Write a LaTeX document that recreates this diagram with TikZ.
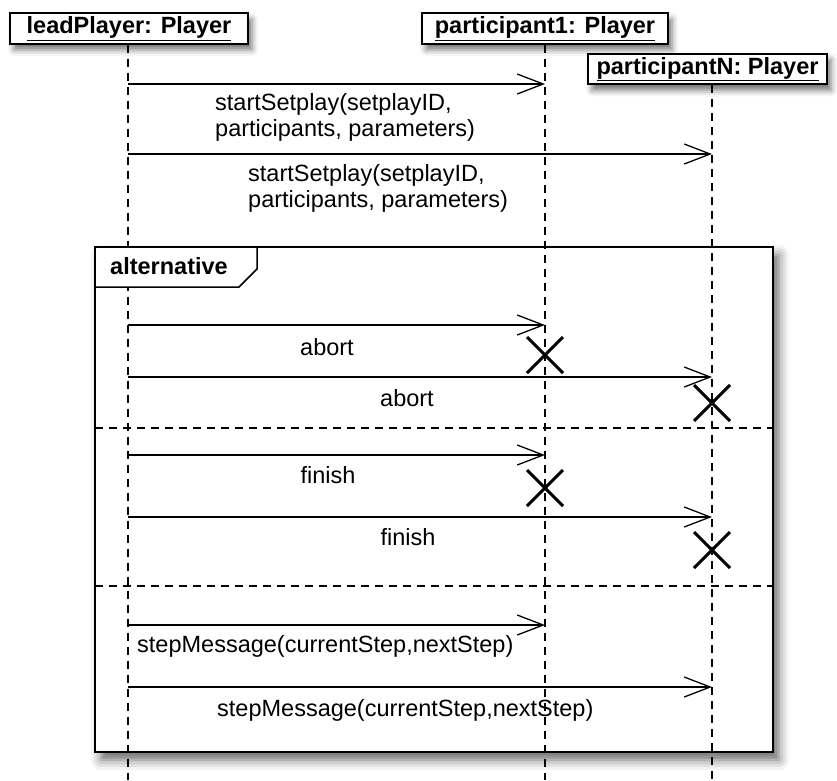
\documentclass[tikz,border=0pt]{standalone}
\usepackage{fontspec}
\setmainfont{Liberation Sans}
\usetikzlibrary{arrows.meta,shadows.blur}

\tikzset{
  objbox/.style={draw, line width=1.6pt, fill=white, minimum height=29pt,
    inner xsep=0pt, font=\fontsize{23.5}{26}\selectfont\bfseries,
    blur shadow={shadow xshift=4pt, shadow yshift=-6pt, shadow blur radius=6pt, shadow opacity=55}},
  lifeline/.style={line width=1.5pt, dash pattern=on 8pt off 6pt},
  msg/.style={line width=1.5pt, -{Straight Barb[length=26pt,width=20pt,line width=1.3pt]}},
  lbl/.style={font=\fontsize{23.5}{26}\selectfont, inner sep=0pt},
  frame/.style={draw, line width=2.2pt, fill=white,
    blur shadow={shadow xshift=6pt, shadow yshift=-8pt, shadow blur radius=10pt, shadow opacity=60}},
  sep/.style={line width=1.5pt, dash pattern=on 8pt off 6pt},
  destroy/.style={line width=3pt},
}

\begin{document}
\begin{tikzpicture}[x=1pt,y=-1pt]
\useasboundingbox (0,0) rectangle (837,780);

% combined fragment frame
\draw[frame] (95,247) rectangle (773,752);
\draw[sep] (95,428) -- (773,428);
\draw[sep] (95,586) -- (773,586);

% object heads
\node[objbox, minimum width=238pt] (lead) at (129,28.5) {\underline{leadPlayer: Player}};
\node[objbox, minimum width=246pt] (p1) at (545,28.5) {\underline{participant1: Player}};
\node[objbox, minimum width=239pt] (pN) at (707.5,69) {\underline{participantN: Player}};

% lifelines
\coordinate (leadEnd) at (128,780);
\coordinate (p1End) at (545,780);
\coordinate (pNEnd) at (712,780);
\draw[lifeline] (lead.south -| leadEnd) -- (leadEnd);
\draw[lifeline] (p1.south -| p1End) -- (p1End);
\draw[lifeline] (pN.south -| pNEnd) -- (pNEnd);

% operator tag of the fragment, covering the lifeline
\draw[line width=1.5pt, fill=white] (95,247) -- (95,287) -- (239,287) -- (257,269) -- (257,247) -- cycle;
\draw[line width=2.2pt] (95,247) -- (257,247);
\draw[line width=2.2pt] (95,247) -- (95,287);
\node[font=\fontsize{23.5}{26}\selectfont\bfseries, anchor=west, inner sep=0pt] (alt) at (110,266) {alternative};

% message anchor points on the lifelines
\foreach \n/\y in {1/84,2/154,3/325,4/377,5/455,6/517,7/625,8/687}{
  \coordinate (s\n) at (128,\y);
}
\foreach \n/\y in {1/84,3/325,5/455,7/625}{
  \coordinate (t\n) at (545,\y);
}
\foreach \n/\y in {2/154,4/377,6/517,8/687}{
  \coordinate (t\n) at (712,\y);
}

% messages
\draw[msg] (s1) -- (t1);
\node[lbl, anchor=west, align=left] (l1) at (215,117) {startSetplay(setplayID,\\participants, parameters)};
\draw[msg] (s2) -- (t2);
\node[lbl, anchor=west, align=left] (l2) at (248,188) {startSetplay(setplayID,\\participants, parameters)};

\draw[msg] (s3) -- (t3);
\node[lbl] (l3) at (327,347) {abort};
\draw[msg] (s4) -- (t4);
\node[lbl] (l4) at (407,398) {abort};

\draw[msg] (s5) -- (t5);
\node[lbl] (l5) at (328,475) {finish};
\draw[msg] (s6) -- (t6);
\node[lbl] (l6) at (408,537) {finish};

\draw[msg] (s7) -- (t7);
\node[lbl, anchor=west] (l7) at (137,646) {stepMessage(currentStep,nextStep)};
\draw[msg] (s8) -- (t8);
\node[lbl, anchor=west] (l8) at (217,710) {stepMessage(currentStep,nextStep)};

% destruction marks
\foreach \cx/\cy in {545/355,712/403,545/488,712/550}{
  \draw[destroy] (\cx-18,\cy-18) -- (\cx+18,\cy+18);
  \draw[destroy] (\cx-18,\cy+18) -- (\cx+18,\cy-18);
}
\end{tikzpicture}
\end{document}
